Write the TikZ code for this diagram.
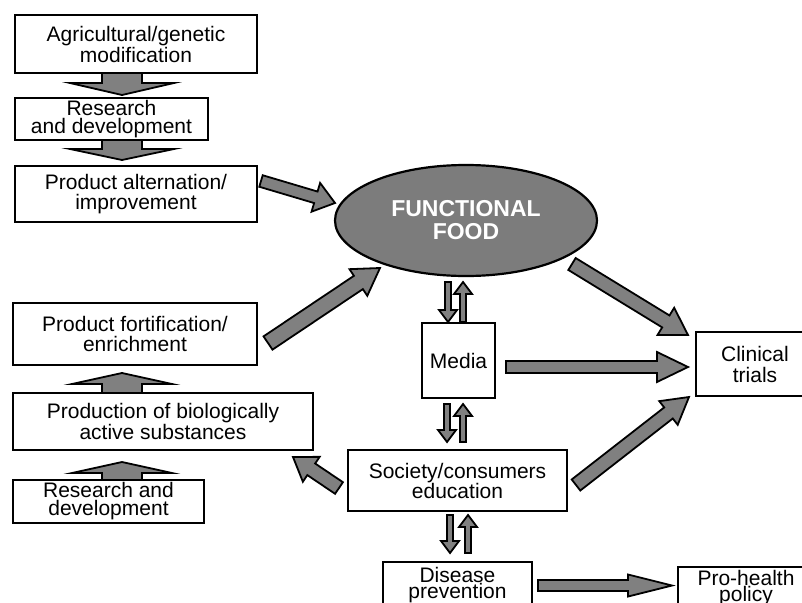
\documentclass[tikz,border=0pt]{standalone}
\usepackage{fontspec}
\setmainfont{Liberation Sans}
\usetikzlibrary{shapes.geometric,calc}
\definecolor{agray}{RGB}{128,128,128}
\definecolor{egray}{RGB}{124,124,124}
\tikzset{
  box/.style={draw=black,line width=2.2pt,fill=white,inner sep=0pt,align=center,font=\fontsize{21}{21}\selectfont},
  barrow/.style={draw=black,line width=1.8pt,fill=agray,line join=miter},
}
\newcommand\blockarrow[5]{%
  \coordinate (bah) at ($(#2)!#5!(#1)$);
  \draw[barrow] ($(#1)!#3!90:(#2)$) -- ($(bah)!#3!90:(#2)$) -- ($(bah)!#4!90:(#2)$) -- (#2)
    -- ($(bah)!#4!-90:(#2)$) -- ($(bah)!#3!-90:(#2)$) -- ($(#1)!#3!-90:(#2)$) -- cycle;
}
\begin{document}
\begin{tikzpicture}[x=1pt,y=-1pt]
\useasboundingbox (0,0) rectangle (802,602);
% boxes
\node[box,minimum width=242,minimum height=58] (agr) at (136,44) {Agricultural/genetic\\modification};
\node[box,minimum width=193,minimum height=42,font=\fontsize{21}{18}\selectfont] (rd1) at (111.5,119) {Research\\and development};
\node[box,minimum width=242,minimum height=56,font=\fontsize{21}{20}\selectfont] (alt) at (136,194) {Product alternation/\\improvement};
\node[box,minimum width=244,minimum height=62,font=\fontsize{21}{20}\selectfont] (fort) at (135,334) {Product fortification/\\enrichment};
\node[box,minimum width=300,minimum height=57] (prod) at (163,421.5) {Production of biologically\\active substances};
\node[box,minimum width=191,minimum height=43,font=\fontsize{21}{18}\selectfont] (rd2) at (108.5,501.5) {Research and\\development};
\node[draw=black,line width=2.2pt,fill=egray,ellipse,inner sep=0pt,minimum width=262,minimum height=111,align=center,text=white,font=\fontsize{23}{23}\selectfont\bfseries] (ff) at (466,220.5) {FUNCTIONAL\\FOOD};
\node[box,minimum width=73,minimum height=75] (media) at (458.5,360.5) {Media};
\node[box,minimum width=219,minimum height=61,font=\fontsize{21}{20}\selectfont] (soc) at (457.5,480.5) {Society/consumers\\education};
\node[box,minimum width=118,minimum height=64] (clin) at (755,364) {Clinical\\trials};
\node[box,minimum width=149,minimum height=46,font=\fontsize{21}{16.5}\selectfont] (dis) at (457.5,585) {Disease\\prevention};
\node[box,minimum width=136,minimum height=42,font=\fontsize{21}{16.5}\selectfont] (pro) at (746,588) {Pro-health\\policy};
% arrow end points
\coordinate (v1t) at (122,73);  \coordinate (v1h) at (122,95);
\coordinate (v2t) at (122,140); \coordinate (v2h) at (122,160);
\coordinate (u1t) at (122,393); \coordinate (u1h) at (122,373);
\coordinate (u2t) at (122,480); \coordinate (u2h) at (122,462);
\coordinate (at) at (261,181);  \coordinate (ah) at (335,203);
\coordinate (bt) at (268,343);  \coordinate (bh) at (380,268);
\coordinate (ct) at (572,264);  \coordinate (ch) at (688,335);
\coordinate (dt) at (506,367);  \coordinate (dh) at (688,367);
\coordinate (et) at (576,485);  \coordinate (eh) at (689,397);
\coordinate (ft) at (339,488);  \coordinate (fh) at (293,457);
\coordinate (gt) at (538,585.5); \coordinate (gh) at (672,585.5);
\coordinate (p1a) at (448,282); \coordinate (p1b) at (448,322);
\coordinate (p1c) at (463,322); \coordinate (p1d) at (463,282);
\coordinate (p2a) at (447,404); \coordinate (p2b) at (447,442);
\coordinate (p2c) at (463,442); \coordinate (p2d) at (463,404);
\coordinate (p3a) at (450,515); \coordinate (p3b) at (450,553);
\coordinate (p3c) at (468,553); \coordinate (p3d) at (468,515);
% block arrows
\blockarrow{v1t}{v1h}{20pt}{52pt}{12pt}
\blockarrow{v2t}{v2h}{20pt}{52pt}{11pt}
\blockarrow{u1t}{u1h}{20pt}{50pt}{11pt}
\blockarrow{u2t}{u2h}{20pt}{50pt}{11pt}
\blockarrow{at}{ah}{6pt}{15pt}{20pt}
\blockarrow{bt}{bh}{8pt}{16pt}{26pt}
\blockarrow{ct}{ch}{7pt}{16pt}{26pt}
\blockarrow{dt}{dh}{6pt}{15pt}{31pt}
\blockarrow{et}{eh}{7pt}{15pt}{26pt}
\blockarrow{ft}{fh}{7pt}{15pt}{22pt}
\blockarrow{gt}{gh}{5.5pt}{11pt}{44pt}
\blockarrow{p1a}{p1b}{3pt}{9pt}{12pt}
\blockarrow{p1c}{p1d}{3pt}{9pt}{12pt}
\blockarrow{p2a}{p2b}{3pt}{9pt}{12pt}
\blockarrow{p2c}{p2d}{3pt}{9pt}{12pt}
\blockarrow{p3a}{p3b}{3pt}{9pt}{12pt}
\blockarrow{p3c}{p3d}{3pt}{9pt}{12pt}
\end{tikzpicture}
\end{document}
